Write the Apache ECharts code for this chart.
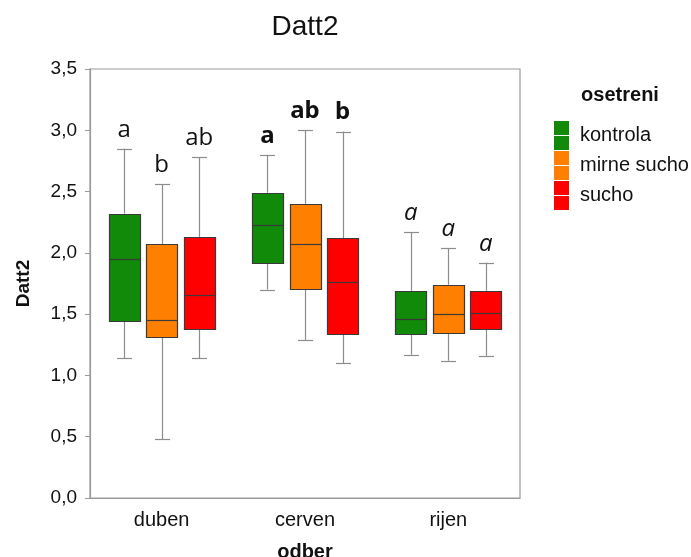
<!DOCTYPE html>
<html>
<head>
<meta charset="utf-8">
<script src="https://cdn.jsdelivr.net/npm/echarts@6/dist/echarts.min.js"></script>
<style>html,body{margin:0;padding:0;background:#fff;}#c{width:691px;height:557px;}</style>
</head>
<body>
<div id="c"></div>
<script>
// ---- data ----
var categories = ['duben', 'cerven', 'rijen'];
var groups = ['kontrola', 'mirne sucho', 'sucho'];
var colors = ['#108a08', '#ff8000', '#ff0000'];
// [min, Q1, median, Q3, max] per category
var kontrola = [
  [1.14, 1.45, 1.95, 2.32, 2.85],
  [1.70, 1.92, 2.23, 2.49, 2.80],
  [1.17, 1.34, 1.46, 1.69, 2.17]
];
var mirneSucho = [
  [0.48, 1.31, 1.45, 2.07, 2.56],
  [1.29, 1.71, 2.07, 2.40, 3.00],
  [1.12, 1.35, 1.50, 1.74, 2.04]
];
var sucho = [
  [1.14, 1.38, 1.66, 2.13, 2.78],
  [1.10, 1.34, 1.76, 2.12, 2.99],
  [1.16, 1.38, 1.51, 1.69, 1.92]
];
var letters = [
  ['a', 'b', 'ab'],
  ['a', 'ab', 'b'],
  ['a', 'a', 'a']
];
var letterStyles = ['normal', 'bold', 'italic'];

var seriesData = [kontrola, mirneSucho, sucho];
var FONT = '"Liberation Sans", Arial, sans-serif';

function groupOffset(api, gi) {
  var bw = api.size([1, 0])[0];
  var step = (bw * 0.8 - 2) / 3;
  return (gi - 1) * step;
}
function px(v) { return Math.round(v) + 0.5; }

var series = [];
seriesData.forEach(function (d, gi) {
  series.push({
    name: groups[gi], type: 'custom', silent: true,
    itemStyle: { color: colors[gi] },
    data: d.map(function (v, ci) { return [ci, v[0], v[1], v[2], v[3], v[4]]; }),
    encode: { x: 0, y: [1, 2, 3, 4, 5] },
    renderItem: function (params, api) {
      var ci = api.value(0);
      var cx = api.coord([ci, 0])[0] + groupOffset(api, gi);
      var y = [1, 2, 3, 4, 5].map(function (k) { return api.coord([ci, api.value(k)])[1]; });
      var hw = 15.5, cw = 7.5;
      var xc = px(cx);
      var whisk = { stroke: '#8c8c8c', lineWidth: 1.2 };
      var dark = { stroke: '#3a3a3a', lineWidth: 1.2 };
      return {
        type: 'group',
        children: [
          { type: 'line', shape: { x1: xc, y1: y[4], x2: xc, y2: y[3] }, style: whisk },
          { type: 'line', shape: { x1: xc, y1: y[1], x2: xc, y2: y[0] }, style: whisk },
          { type: 'line', shape: { x1: xc - cw, y1: px(y[4]), x2: xc + cw, y2: px(y[4]) }, style: whisk },
          { type: 'line', shape: { x1: xc - cw, y1: px(y[0]), x2: xc + cw, y2: px(y[0]) }, style: whisk },
          { type: 'rect', shape: { x: px(cx - hw), y: px(y[3]), width: Math.round(2 * hw), height: Math.round(y[1] - y[3]) },
            style: { fill: colors[gi], stroke: '#3a3a3a', lineWidth: 1.2 } },
          { type: 'line', shape: { x1: px(cx - hw), y1: px(y[2]), x2: px(cx - hw) + Math.round(2 * hw), y2: px(y[2]) }, style: dark }
        ]
      };
    }
  });
});

// letters above whiskers
var letterData = [];
categories.forEach(function (c, ci) {
  groups.forEach(function (g, gi) {
    letterData.push([ci, gi, seriesData[gi][ci][4], letters[ci][gi]]);
  });
});
series.push({
  type: 'custom', silent: true,
  data: letterData,
  encode: { x: 0, y: 2 },
  renderItem: function (params, api) {
    var ci = api.value(0), gi = api.value(1), v = api.value(2);
    var p = api.coord([ci, v]);
    var x = p[0] + groupOffset(api, gi);
    var st = letterStyles[ci];
    var font = st === 'bold' ? 'bold 24px "Noto Sans", "Open Sans", sans-serif'
      : (st === 'italic' ? 'italic 24px "Open Sans", sans-serif' : '24px "Open Sans", sans-serif');
    return {
      type: 'text',
      style: {
        x: x, y: p[1] - 7,
        text: letterData[params.dataIndex][3],
        fill: '#111',
        font: font,
        textAlign: 'center', textVerticalAlign: 'bottom'
      }
    };
  }
});

var chart = echarts.init(document.getElementById('c'));
chart.setOption({
  animation: false,
  backgroundColor: '#fff',
  graphic: [
    { type: 'text', x: 305, y: 27, silent: true,
      style: { text: 'Datt2', font: '28px "Liberation Sans", Arial, sans-serif', fill: '#111', textAlign: 'center', textVerticalAlign: 'middle' } },
    { type: 'text', x: 620, y: 95, silent: true,
      style: { text: 'osetreni', font: 'bold 20px "Liberation Sans", Arial, sans-serif', fill: '#111', textAlign: 'center', textVerticalAlign: 'middle' } }
  ],
  legend: {
    orient: 'vertical', left: 549, top: 116,
    itemWidth: 15, itemHeight: 29, itemGap: 1,
    icon: 'path://M0,0H15V14H0Z M0,15H15V29H0Z',
    data: groups.map(function (g, i) { return { name: g, itemStyle: { color: colors[i], borderWidth: 0 } }; }),
    textStyle: { fontFamily: FONT, fontSize: 20, color: '#111', padding: [0, 0, 0, 6] },
    selectedMode: false
  },
  grid: { left: 90, right: 171, top: 69, bottom: 59, outerBoundsMode: 'none', containLabel: false,
    show: true, borderColor: '#9a9a9a', borderWidth: 1.2, backgroundColor: 'transparent' },
  xAxis: {
    type: 'category', data: categories,
    name: 'odber', nameLocation: 'middle', nameGap: 44,
    nameTextStyle: { fontFamily: FONT, fontSize: 20, fontWeight: 'bold', color: '#111' },
    axisLine: { lineStyle: { color: '#9a9a9a', width: 1.2 } },
    axisTick: { alignWithLabel: true, length: 5, lineStyle: { color: '#9a9a9a' } },
    axisLabel: { fontFamily: FONT, fontSize: 20, color: '#111', margin: 12 },
    splitLine: { show: false }
  },
  yAxis: {
    type: 'value', min: 0, max: 3.5, interval: 0.5,
    name: 'Datt2', nameLocation: 'middle', nameGap: 57, nameRotate: 90,
    nameTextStyle: { fontFamily: FONT, fontSize: 19, fontWeight: 'bold', color: '#111' },
    axisLine: { show: true, lineStyle: { color: '#9a9a9a', width: 1.2 } },
    axisTick: { show: true, length: 5, lineStyle: { color: '#9a9a9a' } },
    axisLabel: { fontFamily: FONT, fontSize: 19, color: '#111', margin: 13,
      formatter: function (v) { return v.toFixed(1).replace('.', ','); } },
    splitLine: { show: false }
  },
  series: series
});
</script>
</body>
</html>
